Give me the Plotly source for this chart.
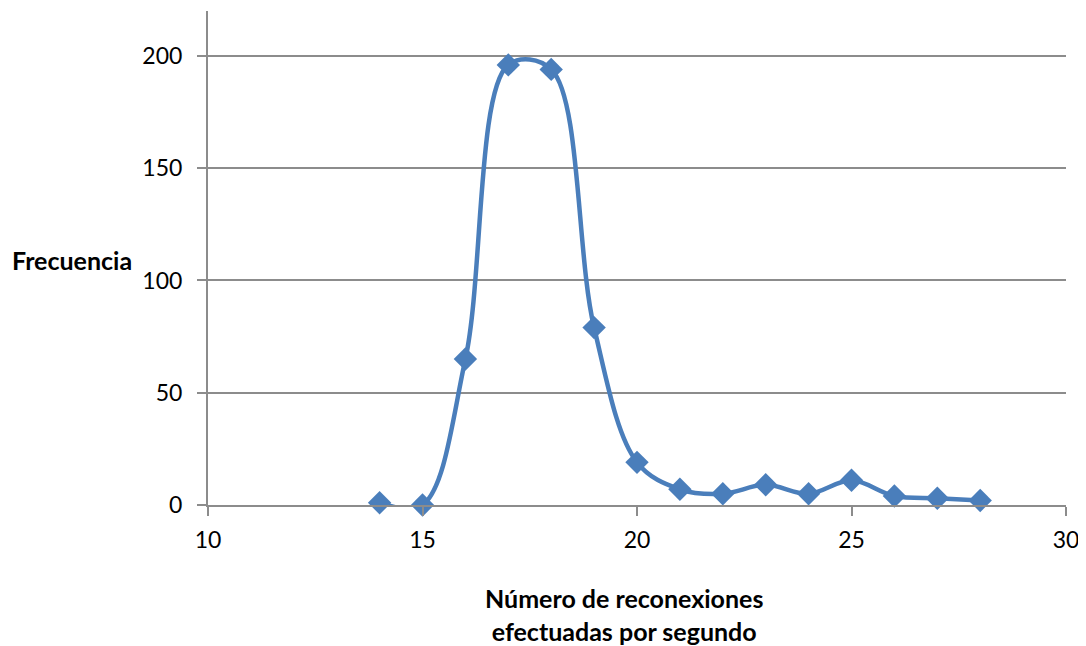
import plotly.graph_objects as go

x_vals = [14, 15, 16, 17, 18, 19, 20, 21, 22, 23, 24, 25, 26, 27, 28]
frecuencia = [1, 0, 65, 196, 194, 79, 19, 7, 5, 9, 5, 11, 4, 3, 2]
x_ticks = [10, 15, 20, 25, 30]
y_ticks = [0, 50, 100, 150, 200]

FONT = "Lato, 'Open Sans', sans-serif"
COLOR = "#4a7ebb"

# page body has an 8px margin; figure origin sits at (8, 8)
L, R, T, B = 200, 14, 3, 141
W, H = 1074, 638
pw, ph = W - L - R, H - T - B

fig = go.Figure()
fig.add_trace(go.Scatter(
    x=x_vals, y=frecuencia, mode="lines+markers",
    line=dict(color=COLOR, width=4.5, shape="spline", smoothing=1),
    marker=dict(symbol="diamond", size=18, color=COLOR),
    showlegend=False, cliponaxis=False,
))

fig.update_layout(
    width=W, height=H,
    margin=dict(l=L, r=R, t=T, b=B),
    paper_bgcolor="white", plot_bgcolor="white",
    font=dict(family=FONT, size=23, color="black"),
    xaxis=dict(range=[10, 30], tickvals=x_ticks, showgrid=False, zeroline=False,
               showline=True, linecolor="#8c8c8c", linewidth=2,
               ticks="outside", ticklen=9, tickcolor="#8c8c8c", tickwidth=2,
               tickfont=dict(size=23), ticklabelstandoff=4),
    yaxis=dict(range=[0, 220], tickvals=y_ticks, showgrid=True, gridcolor="#8c8c8c",
               gridwidth=1.5, zeroline=False, showline=True, linecolor="#8c8c8c",
               linewidth=2, ticks="outside", ticklen=9, tickcolor="#8c8c8c",
               tickwidth=2, tickfont=dict(size=23), ticklabelstandoff=10),
    annotations=[
        dict(text="<b>Número de reconexiones</b><br><b>efectuadas por segundo</b>",
             xref="paper", yref="paper", x=(625 - 208) / pw, y=-(614 - 505) / ph,
             xanchor="center", yanchor="middle", showarrow=False,
             font=dict(size=25, family=FONT)),
        dict(text="<b>Frecuencia</b>", xref="paper", yref="paper", x=(10 - 8 - L) / pw,
             y=(505 - 260) / ph, xanchor="left", yanchor="middle", showarrow=False,
             font=dict(size=25, family=FONT)),
    ],
)

fig.write_html("out.html")
